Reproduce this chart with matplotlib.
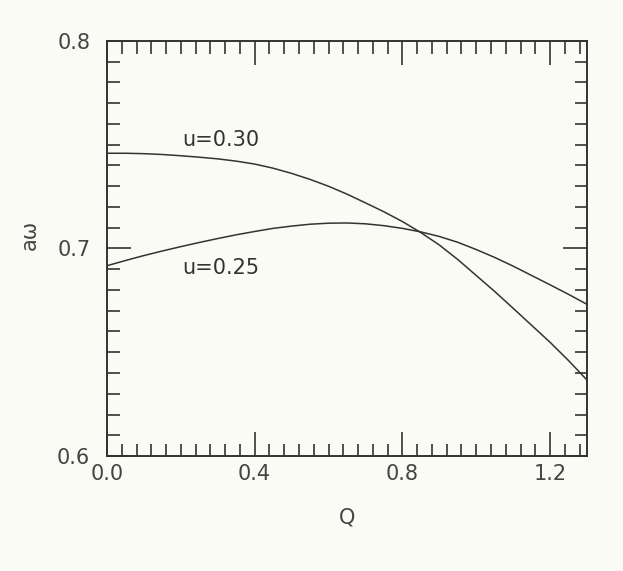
import matplotlib
matplotlib.use("Agg")
import matplotlib.pyplot as plt
from matplotlib.ticker import MultipleLocator

plt.rcParams.update({'font.family': 'DejaVu Sans', 'font.size': 15})

# Q values and the two curves
q = [0.0, 0.05, 0.1, 0.15, 0.2, 0.25, 0.3, 0.35, 0.4, 0.45, 0.5, 0.55, 0.6, 0.65,
     0.7, 0.75, 0.8, 0.85, 0.9, 0.95, 1.0, 1.05, 1.1, 1.15, 1.2, 1.25, 1.3]
omega_u30 = [0.7459, 0.7459, 0.7457, 0.7453, 0.7447, 0.7440, 0.7432, 0.7421, 0.7407,
             0.7387, 0.7362, 0.7333, 0.7300, 0.7262, 0.7220, 0.7177, 0.7130, 0.7077,
             0.7017, 0.6947, 0.6870, 0.6793, 0.6712, 0.6630, 0.6548, 0.6460, 0.6366]
omega_u25 = [0.6917, 0.6942, 0.6966, 0.6988, 0.7009, 0.7029, 0.7048, 0.7066, 0.7082,
             0.7097, 0.7108, 0.7117, 0.7122, 0.7123, 0.7119, 0.7110, 0.7097, 0.7080,
             0.7058, 0.7030, 0.6995, 0.6957, 0.6915, 0.6870, 0.6825, 0.6779, 0.6731]
labels = ['u=0.30', 'u=0.25']

bg = '#fbfbf6'
ink = '#333333'

fig = plt.figure(figsize=(6.23, 5.71), dpi=100, facecolor=bg)
ax = fig.add_axes([0.1717, 0.2014, 0.7705, 0.7268], facecolor=bg)

ax.plot(q, omega_u30, color=ink, lw=1.1)
ax.plot(q, omega_u25, color=ink, lw=1.1)

ax.text(0.205, 0.7523, labels[0], fontsize=15, color=ink, va='center')
ax.text(0.205, 0.6906, labels[1], fontsize=15, color=ink, va='center')

ax.set_xlim(0, 1.3)
ax.set_ylim(0.6, 0.8)
ax.xaxis.set_major_locator(MultipleLocator(0.4))
ax.xaxis.set_minor_locator(MultipleLocator(0.04))
ax.yaxis.set_major_locator(MultipleLocator(0.1))
ax.yaxis.set_minor_locator(MultipleLocator(0.01))
ax.xaxis.set_major_formatter(plt.FormatStrFormatter('%.1f'))
ax.yaxis.set_major_formatter(plt.FormatStrFormatter('%.1f'))

ax.tick_params(which='both', direction='in', top=True, right=True, colors=ink, width=1.2)
ax.tick_params(which='major', length=17, labelsize=15, labelcolor='#444444')
ax.tick_params(which='minor', length=9)
ax.tick_params(axis='x', which='major', pad=6)
ax.tick_params(axis='y', which='major', pad=12)
for s in ax.spines.values():
    s.set_color(ink)
    s.set_linewidth(1.4)

ax.set_xlabel('Q', fontsize=15, color='#444444')
ax.xaxis.set_label_coords(0.5, -0.125)
ax.set_ylabel('aω', fontsize=15, color='#444444')
ax.yaxis.set_label_coords(-0.14, 0.533)

fig.savefig('out.png', dpi=100, facecolor=bg)
